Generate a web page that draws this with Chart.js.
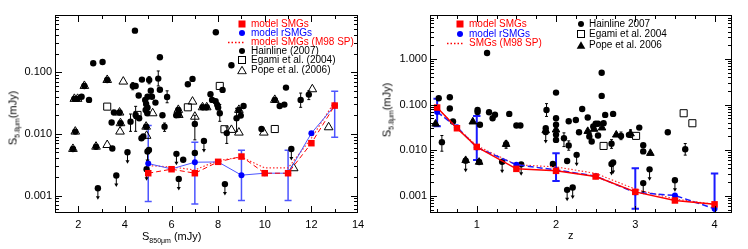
<!DOCTYPE html>
<html lang="en">
<head>
<meta charset="UTF-8">
<script src="https://cdn.jsdelivr.net/npm/chart.js"></script>
<style>
  body { margin: 0; background: #fff; font-family: 'Liberation Sans', Arial, sans-serif; }
  #wrap { position: relative; width: 748px; height: 249px; overflow: hidden; }
  canvas { position: absolute; top: 0; }
  .t { position: absolute; white-space: nowrap; font-size: 11px; color: #000; line-height: 1; }
  .t sub { font-size: 7px; vertical-align: -3px; }
  .ytitle { transform: translate(-50%, -50%) rotate(-90deg); }
  .leg { position: absolute; font-size: 10px; line-height: 10px; white-space: nowrap; transform: translateY(-50%); }
  .sym { position: absolute; transform: translate(-50%, -50%); }
</style>
</head>
<body>
<div id="wrap">
  <canvas id="left" width="374" height="249" style="left:0"></canvas>
  <canvas id="right" width="374" height="249" style="left:374px"></canvas>
  <div class="t" style="left:142px; top:231px">S<sub>850μm</sub> (mJy)</div>
  <div class="t" style="left:568px; top:230px">z</div>
  <div class="t ytitle" style="left:14px; top:118px">S<sub>5.8μm</sub>(mJy)</div>
  <div class="t ytitle" style="left:388px; top:110px">S<sub>5.8μm</sub>(mJy)</div>
</div>

<script>
// ---- left panel: S850 vs S5.8 ----
const s850Bins = [5, 6, 7, 8, 9, 10, 11, 12, 13];
const s850ModelSMG = [0.0023, 0.00267, 0.0023, 0.00352, 0.00429, 0.0023, 0.0023, 0.00706, 0.0288];
const s850ModelR = [0.0033, 0.0027, 0.00347, 0.0035, 0.00214, 0.0023, 0.0023, 0.01025, 0.0288];
const s850M98 = [0.00306, 0.0029, 0.0026, 0.0037, 0.0042, 0.0028, 0.0028, 0.0085, 0.0334];
const s850ErrX = [5, 7, 9, 11, 13];
const s850ErrLo = [0.0008, 0.00073, 0.00083, 0.00083, 0.0088];
const s850ErrHi = [0.01365, 0.0073, 0.0054, 0.0054, 0.0492];

const hainS850 = [4.43, 7.9, 5.5, 2.64, 3.04, 8.57, 10.91, 3.24, 2.26, 4.34, 4.46, 4.73, 5.04, 5.43, 6.7, 6.9,
  8.19, 5.5, 5.11, 11.89, 11.54, 10.43, 10.64, 10.84, 7.67, 7.74, 7.89, 7.96, 8.0, 8.07, 7.33, 7.51,
  5.81, 5.61, 5.7, 4.87, 4.97, 5.16, 5.31, 4.59, 4.91, 4.97, 4.89, 4.96, 6.29, 6.31, 6.2, 7.0,
  3.53, 3.77, 3.81, 3.43, 1.83, 1.97, 2.14, 2.46, 1.87, 1.77, 2.76, 3.46, 4.24, 4.46, 4.61, 4.71,
  4.79, 4.91, 5.03, 6.5, 7.0, 8.37, 8.79, 8.89, 8.97, 9.09, 9.86];
const hainS58a = [0.474, 0.446, 0.175, 0.140, 0.147, 0.130, 0.0564, 0.075, 0.060, 0.060, 0.060, 0.076, 0.075, 0.079, 0.064, 0.078,
  0.0517, 0.052, 0.050, 0.0434, 0.0356, 0.0356, 0.0284, 0.0299, 0.044, 0.0356, 0.034, 0.0296, 0.0267, 0.0216, 0.027, 0.027,
  0.0398, 0.0201, 0.0131, 0.0356, 0.040, 0.040, 0.0322, 0.0419, 0.0306, 0.0267, 0.0245, 0.0216, 0.0245, 0.0203, 0.020, 0.0145,
  0.0222, 0.0222, 0.0149, 0.0153, 0.037, 0.037, 0.040, 0.0356, 0.0109, 0.0057, 0.0062, 0.0058, 0.0158, 0.0203, 0.0179, 0.0085,
  0.0091, 0.0131, 0.0055, 0.0038, 0.0049, 0.0103, 0.018, 0.0245, 0.0198, 0.0284, 0.012];
const hainLimS850 = [4.11, 4.97, 4.93, 3.63, 2.84, 6.21, 6.31, 7.39, 8.29, 11.14];
const hainLimS58a = [0.00504, 0.00517, 0.00267, 0.00211, 0.00131, 0.00474, 0.00186, 0.0077, 0.00153, 0.0057];
const hainErrS850 = [4.34, 5.43, 5.81, 7.0, 4.46, 8.07, 8.37, 8.79, 11.54, 11.89, 5.04, 5.7, 4.24];
const hainErrLoA = [0.052, 0.06, 0.032, 0.008, 0.011, 0.016, 0.007, 0.011, 0.027, 0.036, 0.065, 0.011, 0.011];
const hainErrHiA = [0.068, 0.105, 0.05, 0.02, 0.028, 0.03, 0.013, 0.026, 0.046, 0.05, 0.085, 0.015, 0.021];
const egamiS850 = [3.24, 4.54, 6.7, 8.07, 8.27, 10.43];
const egamiS58a = [0.0277, 0.0203, 0.027, 0.060, 0.0119, 0.012];
const popeS850 = [3.93, 12.04, 6.9, 5.19, 3.79, 3.24, 4.93, 8.57, 8.89, 9.96, 11.24, 12.74, 7.0,
  3.24, 2.26, 10.43, 7.33, 7.51, 6.29, 6.31, 3.77, 3.81, 1.83, 1.97, 1.87, 1.77, 2.76, 4.91, 8.89];
const popeS58a = [0.0706, 0.053, 0.0334, 0.0216, 0.0109, 0.0066, 0.0093, 0.0116, 0.0105, 0.0105, 0.00277, 0.0128, 0.019,
  0.075, 0.060, 0.0356, 0.027, 0.027, 0.0245, 0.0203, 0.0222, 0.0149, 0.037, 0.037, 0.0109, 0.0057, 0.0062, 0.0131, 0.0245];

// ---- right panel: z vs S5.8 ----
const zBins = [0.5, 0.75, 1.0, 1.5, 2.0, 2.5, 3.0, 3.5, 4.0];
const zModelSMG = [0.086, 0.0303, 0.0118, 0.0039, 0.00353, 0.00265, 0.00122, 0.00079, 0.00065];
const zModelR = [0.069, 0.032, 0.0115, 0.0048, 0.0037, 0.0027, 0.00118, 0.00102, 0.00052];
const zM98 = [0.085, 0.031, 0.0125, 0.0048, 0.0043, 0.0031, 0.0014, 0.00085, 0.00065];
const zErrX = [0.5, 1.0, 2.0, 3.0, 4.0];
const zErrLo = [0.0336, 0.0061, 0.0021, 0.00052, 0.0004];
const zErrHi = [0.135, 0.0565, 0.0086, 0.0040, 0.0031];

const hainZ = [1.13, 2.576, 2.576, 2.0, 0.52, 0.66, 0.66, 0.70, 0.56, 1.01, 1.01, 1.04, 1.155, 1.2, 1.23, 1.41,
  1.5, 1.55, 1.88, 1.87, 2.0, 2.0, 2.0, 2.0, 1.96, 2.1, 2.16, 2.14, 2.16, 2.25, 2.29, 2.33,
  2.4, 2.42, 2.45, 2.47, 2.5, 2.53, 2.53, 2.6, 2.62, 2.72, 2.7, 2.82, 2.92, 3.05, 3.1, 3.1,
  3.41, 3.63, 1.37, 1.03];
const hainS58b = [1.35, 0.50, 0.155, 0.183, 0.138, 0.145, 0.082, 0.0425, 0.015, 0.076, 0.069, 0.036, 0.068, 0.05, 0.06, 0.0625,
  0.0347, 0.0347, 0.076, 0.0303, 0.05, 0.036, 0.022, 0.0168, 0.005, 0.0183, 0.0127, 0.0058, 0.043, 0.046, 0.0248, 0.080,
  0.052, 0.020, 0.0155, 0.033, 0.038, 0.038, 0.021, 0.039, 0.0594, 0.0625, 0.0138, 0.0205, 0.0217, 0.0313, 0.0128, 0.0094,
  0.0248, 0.0105, 0.0135, 0.0055];
const hainLimZ = [0.86, 1.32, 1.56, 2.14, 2.21, 2.26, 2.7, 2.72, 3.1, 3.18, 3.5, 1.87];
const hainLimS58b = [0.0059, 0.0056, 0.0049, 0.00135, 0.00152, 0.0079, 0.005, 0.0054, 0.0019, 0.0038, 0.0022, 0.025];
const hainErrZ = [0.56, 1.88, 2.1, 2.16, 2.7, 3.63, 1.37, 2.82, 2.94];
const hainErrLoB = [0.0095, 0.055, 0.012, 0.010, 0.011, 0.0078, 0.011, 0.017, 0.019];
const hainErrHiB = [0.021, 0.105, 0.024, 0.016, 0.017, 0.014, 0.016, 0.025, 0.028];
const egamiZ = [2.6, 3.01, 3.61, 3.72];
const egamiS58b = [0.0124, 0.0206, 0.0646, 0.039];
const popeZ = [0.48, 0.95, 1.03, 1.37, 1.87, 2.0, 2.4, 2.48, 2.58, 2.76, 2.94, 3.19, 0.86];
const popeS58b = [0.0377, 0.042, 0.0055, 0.0135, 0.027, 0.028, 0.026, 0.029, 0.031, 0.0217, 0.023, 0.0086, 0.006];

Chart.defaults.font.family = "'Liberation Sans', Arial, sans-serif";
Chart.defaults.font.size = 11;
Chart.defaults.color = '#000';

const pts = (xs, ys) => xs.map((x, i) => ({ x, y: ys[i] }));

// error bars, upper-limit arrows, frame with inward IDL-style ticks
function makeFrame(cfg) {
  return {
    id: 'frame',
    beforeDatasetsDraw(chart) {
      const { ctx, chartArea: a, scales: { x, y } } = chart;
      ctx.save();
      ctx.beginPath();
      ctx.rect(a.left, a.top, a.right - a.left, a.bottom - a.top);
      ctx.clip();
      cfg.bars.forEach(b => {
        ctx.strokeStyle = b.color;
        ctx.lineWidth = b.width;
        b.x.forEach((xv, i) => {
          const px = x.getPixelForValue(xv);
          const lo = y.getPixelForValue(b.lo[i]);
          const hi = y.getPixelForValue(b.hi[i]);
          ctx.beginPath();
          ctx.moveTo(px, lo); ctx.lineTo(px, hi);
          if (b.cap) {
            ctx.moveTo(px - b.cap, lo); ctx.lineTo(px + b.cap, lo);
            ctx.moveTo(px - b.cap, hi); ctx.lineTo(px + b.cap, hi);
          }
          ctx.stroke();
        });
      });
      ctx.strokeStyle = '#000';
      ctx.fillStyle = '#000';
      ctx.lineWidth = 1;
      cfg.limX.forEach((xv, i) => {
        const px = x.getPixelForValue(xv);
        const py = y.getPixelForValue(cfg.limY[i]);
        ctx.beginPath();
        ctx.moveTo(px, py); ctx.lineTo(px, py + 9);
        ctx.stroke();
        ctx.beginPath();
        ctx.moveTo(px - 2, py + 8); ctx.lineTo(px + 2, py + 8); ctx.lineTo(px, py + 11.5);
        ctx.closePath();
        ctx.fill();
      });
      ctx.restore();
    },
    afterDraw(chart) {
      const { ctx, chartArea: a, scales: { x, y } } = chart;
      ctx.save();
      ctx.strokeStyle = '#000';
      ctx.lineWidth = 1;
      ctx.strokeRect(a.left + 0.5, a.top + 0.5, a.right - a.left - 1, a.bottom - a.top - 1);
      ctx.beginPath();
      const xt = (v, len) => {
        const p = Math.round(x.getPixelForValue(v)) + 0.5;
        if (p < a.left || p > a.right) return;
        ctx.moveTo(p, a.bottom); ctx.lineTo(p, a.bottom - len);
        ctx.moveTo(p, a.top); ctx.lineTo(p, a.top + len);
      };
      const yt = (v, len) => {
        const p = Math.round(y.getPixelForValue(v)) + 0.5;
        if (p < a.top || p > a.bottom) return;
        ctx.moveTo(a.left, p); ctx.lineTo(a.left + len, p);
        ctx.moveTo(a.right, p); ctx.lineTo(a.right - len, p);
      };
      for (let v = cfg.xMin; v <= cfg.xMax + 1e-9; v += cfg.xMinorStep) {
        const isMajor = Math.abs(v / cfg.xMajorStep - Math.round(v / cfg.xMajorStep)) < 1e-6;
        xt(v, isMajor ? 7 : 4);
      }
      for (let n = -4; n <= 1; n++) {
        for (let k = 1; k <= 9; k++) yt(k * Math.pow(10, n), k === 1 ? 7 : 4);
      }
      ctx.stroke();
      ctx.restore();
    }
  };
}

function axes(xMin, xMax, xTicks, yMin, yMax, yTicks, yWidth) {
  return {
    x: {
      type: 'linear', min: xMin, max: xMax,
      afterBuildTicks: s => { s.ticks = xTicks.map(v => ({ value: v })); },
      afterFit: s => { s.height = 36; },
      grid: { display: false, drawTicks: false }, border: { display: false },
      ticks: { padding: 5, autoSkip: false, maxRotation: 0 }
    },
    y: {
      type: 'logarithmic', min: yMin, max: yMax,
      afterBuildTicks: s => { s.ticks = yTicks.map(v => ({ value: v })); },
      afterFit: s => { s.width = yWidth; },
      grid: { display: false, drawTicks: false }, border: { display: false },
      ticks: { padding: 3, autoSkip: false, callback: v => Number(v).toFixed(3) }
    }
  };
}

function modelSets(bins, smg, rsmg, m98, smgDash, rDash, lw, blue) {
  return [
    { data: pts(bins, smg), showLine: true, borderColor: '#ff0000', borderWidth: lw, borderDash: smgDash,
      pointStyle: 'rect', pointRadius: 4.6, pointBackgroundColor: '#ff0000', pointBorderWidth: 0 },
    { data: pts(bins, rsmg), showLine: true, borderColor: blue, borderWidth: lw, borderDash: rDash,
      pointStyle: 'circle', pointRadius: 3, pointBackgroundColor: '#0000ff', pointBorderWidth: 0 },
    { data: pts(bins, m98), showLine: true, borderColor: '#ff3030', borderWidth: 1.2, borderDash: [1.5, 2],
      pointRadius: 0 }
  ];
}

function obsSets(hx, hy, lx, ly, ex, ey, px, py, popeFilled) {
  return [
    { data: pts(hx, hy), pointStyle: 'circle', pointRadius: 3.2, pointBackgroundColor: '#000', pointBorderWidth: 0 },
    { data: pts(lx, ly), pointStyle: 'circle', pointRadius: 3.2, pointBackgroundColor: '#000', pointBorderWidth: 0 },
    { data: pts(ex, ey), pointStyle: 'rect', pointRadius: 5, pointBackgroundColor: 'rgba(0,0,0,0)',
      pointBorderColor: '#000', pointBorderWidth: 1 },
    { data: pts(px, py), pointStyle: 'triangle', pointRadius: popeFilled ? 4.4 : 5,
      pointBackgroundColor: popeFilled ? '#000' : 'rgba(0,0,0,0)', pointBorderColor: '#000', pointBorderWidth: 1 }
  ];
}

const common = {
  responsive: false, animation: false, devicePixelRatio: 1,
  plugins: { legend: { display: false }, tooltip: { enabled: false } },
  layout: { padding: { left: 0, right: 16, top: 15, bottom: 0 } },
  clip: 0
};

new Chart(document.getElementById('left'), {
  type: 'scatter',
  data: {
    datasets: [
      ...modelSets(s850Bins, s850ModelSMG, s850ModelR, s850M98, [5, 3], [], 1, '#4d55ff'),
      ...obsSets(hainS850, hainS58a, hainLimS850, hainLimS58a, egamiS850, egamiS58a, popeS850, popeS58a, false)
    ]
  },
  options: { ...common, scales: axes(1, 14, [2, 4, 6, 8, 10, 12, 14], 0.00052, 0.85, [0.001, 0.01, 0.1], 55) },
  plugins: [makeFrame({
    xMin: 1, xMax: 14, xMinorStep: 1, xMajorStep: 2,
    limX: hainLimS850, limY: hainLimS58a,
    bars: [
      { x: hainErrS850, lo: hainErrLoA, hi: hainErrHiA, color: '#000', width: 1, cap: 1.5 },
      { x: s850ErrX, lo: s850ErrLo, hi: s850ErrHi, color: '#4d55ff', width: 1.5, cap: 3.5 }
    ]
  })]
});

new Chart(document.getElementById('right'), {
  type: 'scatter',
  data: {
    datasets: [
      ...modelSets(zBins, zModelSMG, zModelR, zM98, [], [6, 3], 1.5, '#1a1aff'),
      ...obsSets(hainZ, hainS58b, hainLimZ, hainLimS58b, egamiZ, egamiS58b, popeZ, popeS58b, true)
    ]
  },
  options: { ...common, scales: axes(0.41, 4.22, [1, 2, 3, 4], 0.00042, 9.2, [0.001, 0.01, 0.1, 1], 56) },
  plugins: [makeFrame({
    xMin: 0.5, xMax: 4.2, xMinorStep: 0.25, xMajorStep: 1,
    limX: hainLimZ, limY: hainLimS58b,
    bars: [
      { x: hainErrZ, lo: hainErrLoB, hi: hainErrHiB, color: '#000', width: 1, cap: 1.5 },
      { x: zErrX, lo: zErrLo, hi: zErrHi, color: '#1a1aff', width: 2, cap: 3.7 }
    ]
  })]
});

// legends (HTML text, symbols as small svgs)
const symbols = {
  sq: c => `<svg width="8" height="8"><rect x="0.5" y="0.5" width="7" height="7" fill="${c}"/></svg>`,
  dot: c => `<svg width="8" height="8"><circle cx="4" cy="4" r="3" fill="${c}"/></svg>`,
  dotline: c => `<svg width="16" height="4"><line x1="0" y1="2" x2="16" y2="2" stroke="${c}" stroke-width="1.3" stroke-dasharray="1.5,2"/></svg>`,
  osq: c => `<svg width="9" height="9"><rect x="1" y="1" width="7" height="7" fill="none" stroke="${c}" stroke-width="1"/></svg>`,
  otri: c => `<svg width="10" height="9"><polygon points="5,0.8 9.3,8.3 0.7,8.3" fill="none" stroke="${c}" stroke-width="1"/></svg>`,
  ftri: c => `<svg width="10" height="9"><polygon points="5,0.8 9.3,8.3 0.7,8.3" fill="${c}"/></svg>`
};
const legendRows = [
  [242, 24, 251, 'sq', '#ff0000', 'model SMGs'],
  [242, 33, 251, 'dot', '#0000ff', 'model rSMGs'],
  [236, 42, 251, 'dotline', '#ff0000', 'model SMGs (M98 SP)'],
  [242, 50.5, 251, 'dot', '#000', 'Hainline (2007)'],
  [242, 60, 251, 'osq', '#000', 'Egami et al. (2004)'],
  [242, 69.5, 251, 'otri', '#000', 'Pope et al. (2006)'],
  [460, 24, 469, 'sq', '#ff0000', 'model SMGs'],
  [460, 33.7, 469, 'dot', '#0000ff', 'model rSMGs'],
  [455, 43.3, 469, 'dotline', '#ff0000', 'SMGs (M98 SP)'],
  [581, 24, 589, 'dot', '#000', 'Hainline 2007'],
  [581, 33.7, 589, 'osq', '#000', 'Egami et al. 2004'],
  [581, 44.7, 589, 'ftri', '#000', 'Pope et al. 2006']
];
const wrap = document.getElementById('wrap');
legendRows.forEach(([sx, sy, tx, sym, color, label]) => {
  const s = document.createElement('div');
  s.className = 'sym';
  s.style.left = sx + 'px';
  s.style.top = sy + 'px';
  s.style.lineHeight = '0';
  s.innerHTML = symbols[sym](color);
  wrap.appendChild(s);
  const t = document.createElement('div');
  t.className = 'leg';
  t.style.left = tx + 'px';
  t.style.top = sy + 'px';
  t.style.color = color;
  t.textContent = label;
  wrap.appendChild(t);
});
</script>
</body>
</html>
